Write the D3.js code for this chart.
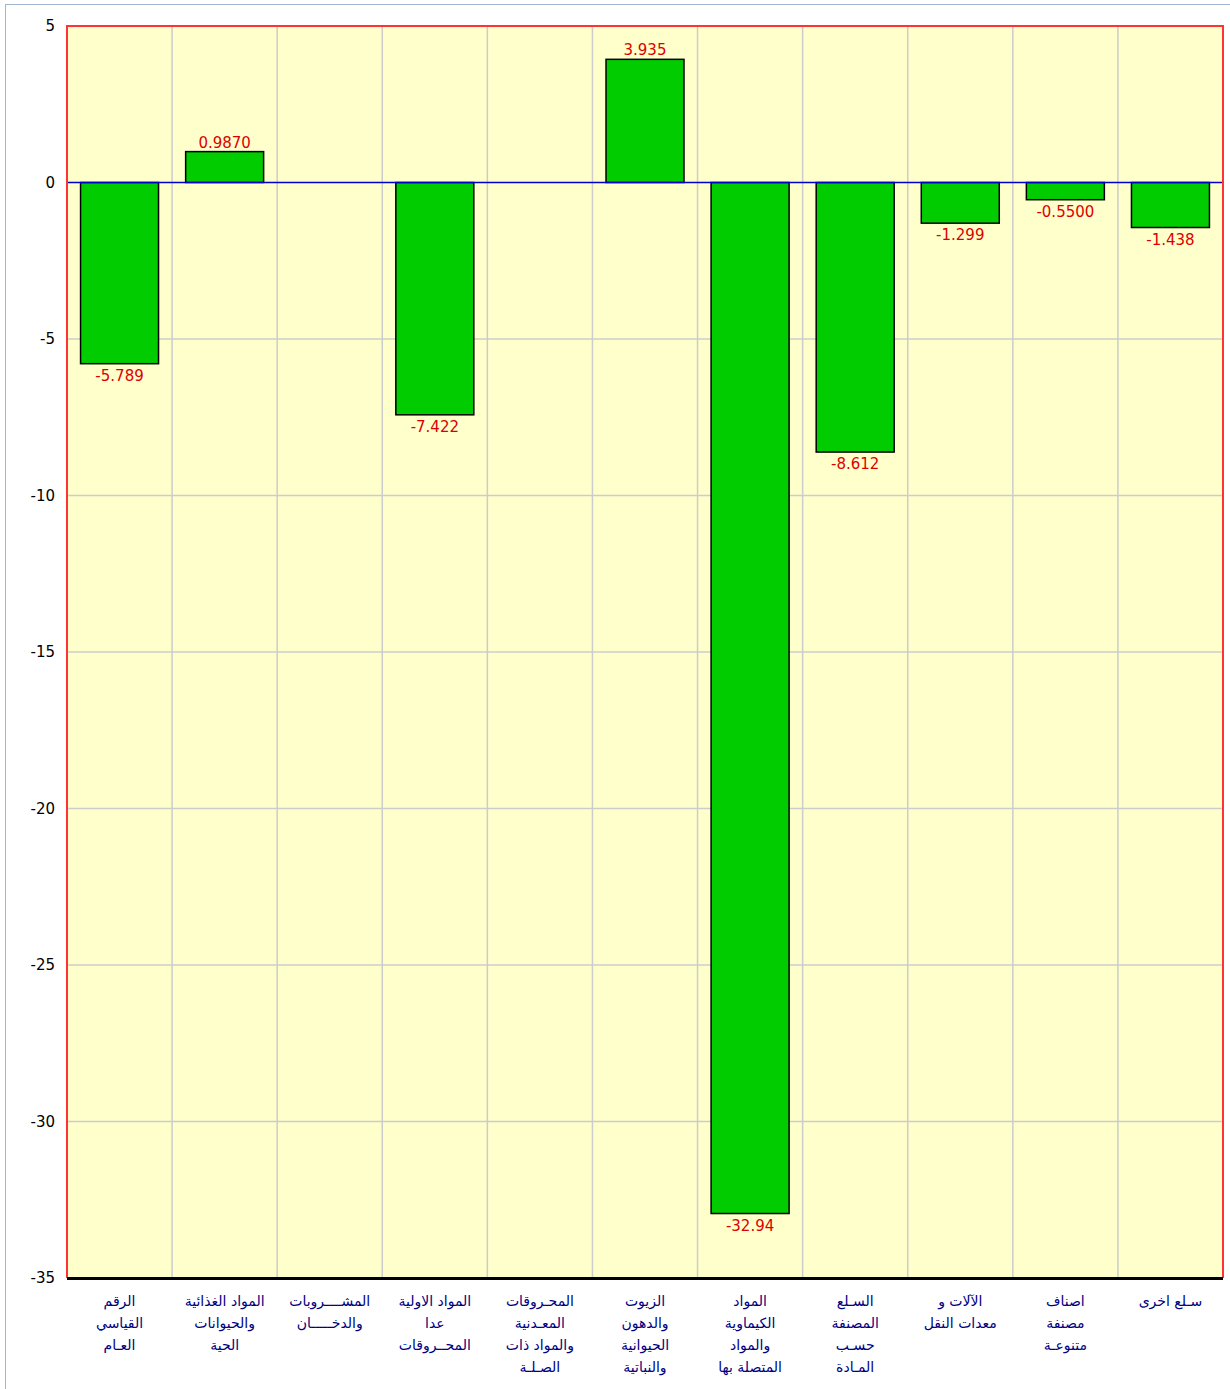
<!DOCTYPE html>
<html>
<head>
<meta charset="utf-8">
<script src="https://cdn.jsdelivr.net/npm/d3@7"></script>
<style>
  body { margin: 0; background: #fff; }
  svg { display: block; }
</style>
</head>
<body>
<script>
// categories (multi-line arabic labels)
const categories = [
  ["الرقم", "القياسي", "العـام"],
  ["المواد الغذائية", "والحيوانات", "الحية"],
  ["المشــــروبات", "والدخـــــان"],
  ["المواد الاولية", "عدا", "المحــروقات"],
  ["المحـروقات", "المعـدنية", "والمواد ذات", "الصـلـة"],
  ["الزيوت", "والدهون", "الحيوانية", "والنباتية"],
  ["المواد", "الكيماوية", "والمواد", "المتصلة بها"],
  ["السـلع", "المصنفة", "حسـب", "المـادة"],
  ["الآلات و", "معدات النقل"],
  ["اصناف", "مصنفة", "متنوعـة"],
  ["سـلع اخرى"]
];
const values = [-5.789, 0.9870, null, -7.422, null, 3.935, -32.94, -8.612, -1.299, -0.5500, -1.438];
const valueLabels = ["-5.789", "0.9870", "", "-7.422", "", "3.935", "-32.94", "-8.612", "-1.299", "-0.5500", "-1.438"];
const yTicks = [5, 0, -5, -10, -15, -20, -25, -30, -35];

const width = 1230, height = 1389;
const margin = {top: 26, left: 67, right: 7, bottom: 111};
const pwidth = width - margin.left - margin.right;
const pheight = height - margin.top - margin.bottom;

const svg = d3.select("body").append("svg")
  .attr("width", width).attr("height", height);

// outer frame
svg.append("rect")
  .attr("x", 5.5).attr("y", 4.5)
  .attr("width", width + 10).attr("height", height + 10)
  .attr("fill", "none").attr("stroke", "#9fb5d0").attr("stroke-width", 1);

const g = svg.append("g").attr("transform", `translate(${margin.left},${margin.top})`);

const idx = categories.map((d, i) => i);
const x = d3.scaleBand().domain(idx).range([0, pwidth]).paddingInner(0.258).paddingOuter(0.129);
const y = d3.scaleLinear().domain([-35, 5]).range([pheight, 0]);
const step = x.step();

g.append("rect").attr("width", pwidth).attr("height", pheight).attr("fill", "#ffffcc");

// grid
g.selectAll(".hgrid").data(yTicks.filter(t => t !== 5 && t !== -35 && t !== 0)).enter()
  .append("line")
  .attr("x1", 0).attr("x2", pwidth)
  .attr("y1", d => y(d)).attr("y2", d => y(d))
  .attr("stroke", "#cccccc").attr("stroke-width", 1.5);

g.selectAll(".vgrid").data(idx.slice(1)).enter()
  .append("line")
  .attr("x1", d => d * step).attr("x2", d => d * step)
  .attr("y1", 0).attr("y2", pheight)
  .attr("stroke", "#cccccc").attr("stroke-width", 1.5);

// bars
const data = idx.filter(i => values[i] !== null);
g.selectAll(".bar").data(data).enter()
  .append("rect")
  .attr("x", i => x(i))
  .attr("width", x.bandwidth())
  .attr("y", i => y(Math.max(0, values[i])))
  .attr("height", i => Math.abs(y(values[i]) - y(0)))
  .attr("fill", "#00cc00")
  .attr("stroke", "#000").attr("stroke-width", 1.5);

// zero line
g.append("line")
  .attr("x1", 0).attr("x2", pwidth)
  .attr("y1", y(0)).attr("y2", y(0))
  .attr("stroke", "#0000cc").attr("stroke-width", 1.5);

// value labels
g.selectAll(".vlabel").data(data).enter()
  .append("text")
  .attr("x", i => x(i) + x.bandwidth() / 2)
  .attr("y", i => values[i] >= 0 ? y(values[i]) - 4 : y(values[i]) + 17)
  .attr("text-anchor", "middle")
  .attr("font-family", "DejaVu Sans, Verdana, sans-serif")
  .attr("font-size", 15)
  .attr("fill", "#dd0000")
  .text(i => valueLabels[i]);

// plot border
g.append("path")
  .attr("d", `M0,${pheight}V0H${pwidth}V${pheight}`)
  .attr("fill", "none").attr("stroke", "#ff3333").attr("stroke-width", 2);
g.append("line")
  .attr("x1", 0).attr("x2", pwidth)
  .attr("y1", pheight + 0.5).attr("y2", pheight + 0.5)
  .attr("stroke", "#000").attr("stroke-width", 3);

// y tick labels
g.selectAll(".ytick").data(yTicks).enter()
  .append("text")
  .attr("x", -12)
  .attr("y", d => y(d) + 5)
  .attr("text-anchor", "end")
  .attr("font-family", "DejaVu Sans, Verdana, sans-serif")
  .attr("font-size", 15)
  .attr("fill", "#000")
  .text(d => d);

// x category labels
const xl = g.selectAll(".xlabel").data(idx).enter()
  .append("text")
  .attr("text-anchor", "middle")
  .attr("direction", "rtl")
  .attr("font-family", "DejaVu Sans, sans-serif")
  .attr("font-size", 14)
  .attr("fill", "#000080");

xl.selectAll("tspan").data(i => categories[i].map(t => ({t, i}))).enter()
  .append("tspan")
  .attr("x", d => x(d.i) + x.bandwidth() / 2)
  .attr("y", (d, j) => pheight + 28 + j * 22)
  .text(d => d.t);
</script>
</body>
</html>
